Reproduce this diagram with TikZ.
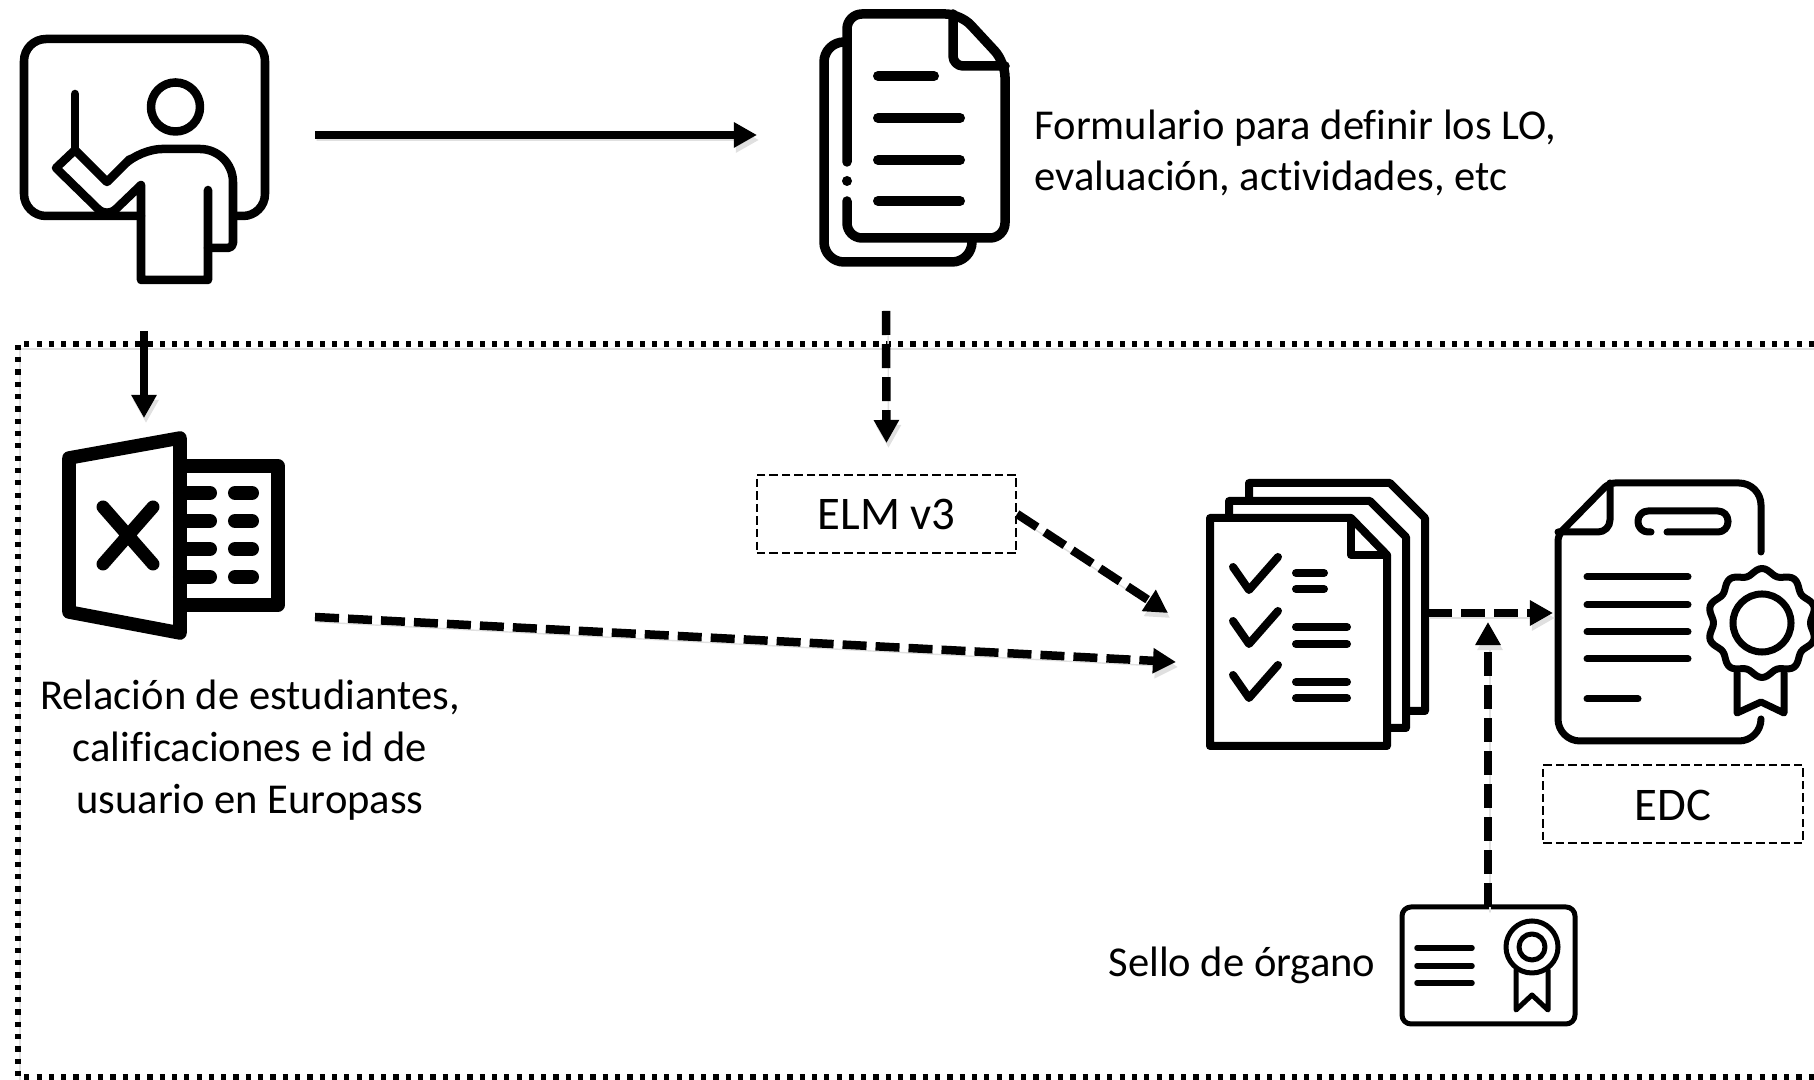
\documentclass[tikz,border=0pt]{standalone}
\usepackage{fontspec}
\setmainfont{Carlito}[Ligatures=NoCommon]
\usetikzlibrary{arrows.meta}
\begin{document}
\begin{tikzpicture}[x=0.01cm,y=-0.01cm,line join=round,line cap=round,
	softshadow/.style={preaction={draw=black!12,transform canvas={shift={(0.2mm,-0.5mm)}}}},
	arrowline/.style={softshadow,line cap=butt,line join=miter,line width=0.085cm,-{Triangle[length=0.23cm,width=0.24cm]}},
	dashline/.style={arrowline,dash pattern=on 0.24cm off 0.09cm},
	framedots/.style={softshadow,line cap=butt,line join=miter,line width=0.055cm,dash pattern=on 0.052cm off 0.071cm},
	labelbox/.style={draw,line width=0.02cm,line cap=butt,dash pattern=on 0.085cm off 0.04cm,minimum width=2.59cm,minimum height=0.78cm,inner sep=0pt,text height=0.32cm,text depth=0cm,font=\fontsize{13.3}{16}\selectfont},
	labeltext/.style={font=\fontsize{12.1}{14.75}\selectfont,inner sep=0pt}]
	\useasboundingbox (0,0) rectangle (1814,1080);
	
	% frame
	\draw[framedots] (1814,344)--(18,344)--(18,1077)--(1814,1077);
	
	% teacher
	\begin{scope}[line width=0.085cm]
		\draw[rounded corners=2.2mm] (141,216)--(24,216)--(24,39)--(265,39)--(265,216)--(237,216);
		\draw (175.5,107) circle (0.245cm);
		\draw (75,94)--(75,150);
		\draw (75,150)--(107,182)--(130,159) [rounded corners=2.2mm] --(140,149) [rounded corners=3.3mm] --(233,149) [rounded corners=0.5mm] --(233,248)--(208,248);
		\draw (75,150)--(56,168)--(98,209) .. controls (104,214) and (110,214) .. (116,209) -- (141,185)--(141,280)--(208,280)--(208,190);
	\end{scope}
	\coordinate (teacherE) at (315,135);
	\coordinate (teacherS) at (144,331);
	
	% form
	\begin{scope}[line width=0.095cm]
		\draw[rounded corners=1.5mm] (847,162)--(847,14)--(960.5,14)--(1005,62)--(1005,238)--(847,238)--(847,201);
		\draw[rounded corners=1mm] (953,14)--(953,66)--(1005,66);
		\fill (847,181) circle (0.05cm);
		\draw[rounded corners=2mm] (847,42)--(824,42)--(824,262)--(972,262)--(972,238);
		\draw[line width=0.1cm] (878,76)--(934,76) (878,118)--(960,118) (878,160)--(960,160) (878,201)--(960,201);
	\end{scope}
	\coordinate (formW) at (757,135);
	\coordinate (formS) at (886,311);
	\node[labeltext,anchor=west,align=left] (formtext) at (1034,153) {Formulario para definir los LO,\\evaluación, actividades, etc};
	
	% spreadsheet
	\begin{scope}[line width=0.135cm]
		\draw (69,458)--(180,438)--(180,633)--(69,612)--cycle;
		\draw (180,466)--(278,466)--(278,605)--(180,605);
		\draw[line width=0.13cm] (103,507)--(153,564) (153,507)--(103,564);
		\foreach \y in {493,521,549,577}
			\draw[line width=0.14cm] (180,\y)--(210,\y) (235,\y)--(252,\y);
	\end{scope}
	\coordinate (sheetN) at (144,418);
	\coordinate (sheetE) at (315,617);
	\node[labeltext,align=center] (sheettext) at (250,750) {Relación de estudiantes,\\calificaciones e id de\\usuario en Europass};
	
	% checklist
	\begin{scope}[line width=0.08cm]
		\draw (1249,501)--(1249,483)--(1390,483)--(1425,518)--(1425,711)--(1406,711);
		\draw (1229,518)--(1229,501)--(1370,501)--(1406,537)--(1406,728)--(1387,728);
		\draw (1210,518)--(1351,518)--(1387,555)--(1387,746)--(1210,746)--cycle;
		\draw (1351,518)--(1351,555)--(1387,555);
		\foreach \y in {0,54,108}
			\draw (1233,567+\y)--(1249,590+\y)--(1278,557+\y);
		\draw (1296,573)--(1324,573) (1296,589)--(1324,589);
		\draw (1296,627)--(1347,627) (1296,644)--(1347,644);
		\draw (1296,682)--(1347,682) (1296,698)--(1347,698);
	\end{scope}
	\coordinate (listW) at (1168,613);
	\coordinate (listSW) at (1176,662);
	\coordinate (listE) at (1428,613);
	
	% credential
	\begin{scope}[line width=0.07cm]
		\draw (1761,552) [rounded corners=2.2mm] --(1761,483) [rounded corners=0.6mm] --(1609,483)--(1558,535) [rounded corners=2.2mm] --(1558,741)--(1761,741)--(1761,719);
		\draw[rounded corners=1.2mm] (1610,483)--(1610,532)--(1558,532);
		\draw[rounded corners=1mm] (1651,532)--(1638,532)--(1638,511)--(1728,511)--(1728,532)--(1667,532);
		\draw (1587,577)--(1688,577) (1587,605)--(1688,605) (1587,632)--(1688,632) (1587,659)--(1688,659) (1587,699)--(1638,699);
		\draw (1737,673)--(1737,713)--(1761,702)--(1784,713)--(1784,673);
		\draw[fill=white] plot[domain=0:360,samples=121,smooth] ({1762+(51.5+3*cos(10*(\x+90)))*cos(\x)},{623+(51.5+3*cos(10*(\x+90)))*sin(\x)})--cycle;
		\draw (1762,623) circle (0.29cm);
	\end{scope}
	\coordinate (credW) at (1553,613);
	\node[labelbox] (edc) at (1673,804) {EDC};
	
	% stamp
	\begin{scope}[line width=0.05cm]
		\draw[rounded corners=0.9mm] (1402,907) rectangle (1575,1024);
		\draw[line width=0.055cm] (1417,948)--(1472,948) (1417,966)--(1472,966) (1417,983)--(1472,983);
		\draw (1532,947) circle (0.26cm);
		\draw (1532,947) circle (0.13cm);
		\draw (1516,970)--(1516,1010)--(1532,995)--(1548,1010)--(1548,970);
	\end{scope}
	\coordinate (stampN) at (1488,907);
	\coordinate (joinS) at (1488,622);
	\node[labeltext] (stamptext) at (1242,965) {Sello de órgano};
	
	\node[labelbox] (elm) at (886.5,514) {ELM v3};
	
	% arrows
	\draw[arrowline] (teacherE)--(formW);
	\draw[arrowline] (teacherS)--(sheetN);
	\draw[dashline] (formS)--(elm.north |- 0,443);
	\draw[dashline] (elm.east)--(listW);
	\draw[dashline] (sheetE)--(listSW);
	\draw[dashline] (listE)--(credW);
	\draw[dashline] (stampN)--(joinS);
\end{tikzpicture}
\end{document}
